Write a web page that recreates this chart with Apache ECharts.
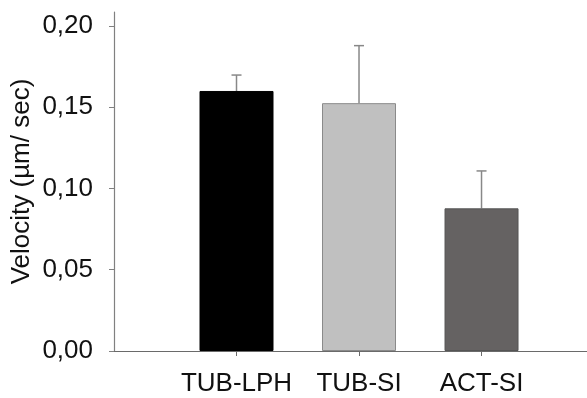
<!DOCTYPE html>
<html>
<head>
<meta charset="utf-8">
<script src="https://cdn.jsdelivr.net/npm/echarts@6/dist/echarts.min.js"></script>
<style>html,body{margin:0;padding:0;background:#fff}#c{width:587px;height:398px}</style>
</head>
<body>
<div id="c"></div>
<script>
const categories = ['TUB-LPH', 'TUB-SI', 'ACT-SI'];
const means = [0.160, 0.1525, 0.0878];
const errors = [0.0098, 0.0354, 0.0230];
const barColors = ['#000000', '#c0c0c0', '#656262'];
const yTicks = [0, 0.05, 0.10, 0.15, 0.20];
const xPositions = [1, 2, 3];

const chart = echarts.init(document.getElementById('c'), null, {renderer: 'canvas'});
const font = '"Liberation Sans", Arial, sans-serif';

chart.setOption({
  animation: false,
  backgroundColor: '#ffffff',
  grid: {left: 114, right: 0, top: 12, bottom: 47, containLabel: false, outerBoundsMode: 'none'},
  xAxis: {
    type: 'value', min: 0, max: 3.861,
    splitLine: {show: false},
    axisLine: {show: true, lineStyle: {color: '#6a6a6a', width: 1.2}},
    axisTick: {show: true, length: 5, lineStyle: {color: '#6a6a6a'}, customValues: xPositions},
    axisLabel: {
      customValues: xPositions,
      formatter: v => categories[Math.round(v) - 1] || '',
      fontFamily: font, fontSize: 26, color: '#111', margin: 20
    }
  },
  yAxis: {
    type: 'value', min: 0, max: 0.2086,
    name: 'Velocity (µm/ sec)', nameLocation: 'middle', nameGap: 79, nameMoveOverlap: false,
    nameTextStyle: {fontFamily: font, fontSize: 26, color: '#111'},
    splitLine: {show: false},
    axisLine: {show: true, lineStyle: {color: '#808080', width: 1.2}},
    axisTick: {show: true, length: 5, lineStyle: {color: '#808080'}, customValues: yTicks},
    axisLabel: {
      customValues: yTicks,
      formatter: v => v.toFixed(2).replace('.', ','),
      fontFamily: font, fontSize: 26, color: '#111', margin: 21
    }
  },
  series: [
    {
      type: 'bar', barWidth: 74,
      data: means.map((m, i) => ({
        value: [xPositions[i], m],
        itemStyle: {color: barColors[i], borderColor: i === 0 ? '#000' : (i === 1 ? '#8a8a8a' : '#555'), borderWidth: 1}
      })),
      z: 2
    },
    {
      type: 'custom', z: 1,
      data: means.map((m, i) => [xPositions[i], m, m + errors[i]]),
      renderItem: (params, api) => {
        const base = api.coord([api.value(0), api.value(1)]);
        const top = api.coord([api.value(0), api.value(2)]);
        const style = {stroke: '#888888', lineWidth: 1.5};
        return {
          type: 'group',
          children: [
            {type: 'line', shape: {x1: base[0], y1: base[1], x2: top[0], y2: top[1]}, style: style},
            {type: 'line', shape: {x1: top[0] - 5, y1: top[1], x2: top[0] + 5, y2: top[1]}, style: style}
          ]
        };
      }
    }
  ]
});
</script>
</body>
</html>
